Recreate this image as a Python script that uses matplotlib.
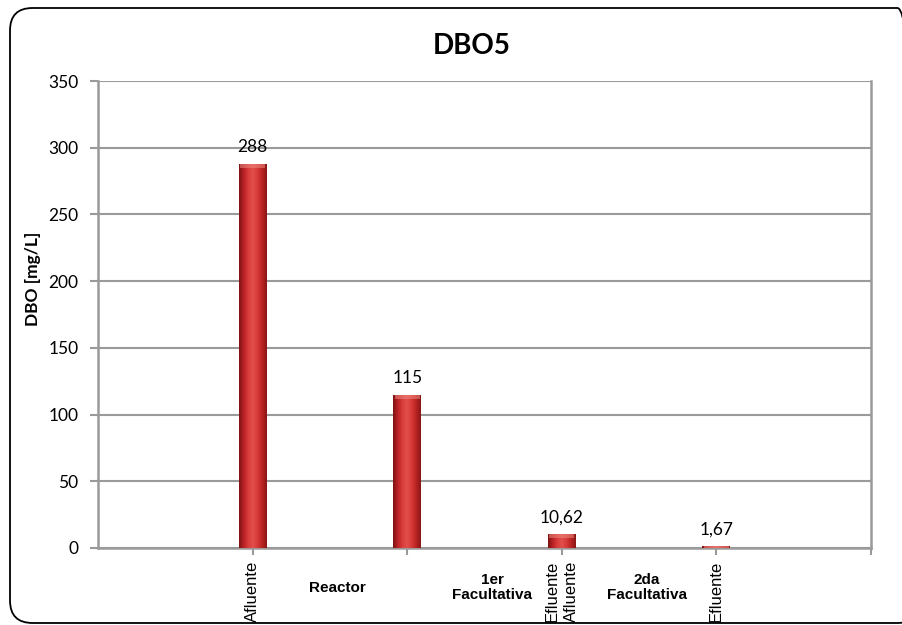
import numpy as np
import matplotlib
matplotlib.use("Agg")
import matplotlib.pyplot as plt
from matplotlib.patches import FancyBboxPatch
from matplotlib.colors import LinearSegmentedColormap
import matplotlib.transforms as mtransforms

# --- data ---
values = [288, 115, 10.62, 1.67]
value_labels = ["288", "115", "10,62", "1,67"]
stage_labels = ["Afluente", "", "Efluente\nAfluente", "Efluente", ""]
group_labels = ["Reactor", "1er\nFacultativa", "2da\nFacultativa"]
title = "DBO5"
ylabel = "DBO [mg/L]"
yticks = [0, 50, 100, 150, 200, 250, 300, 350]

NUM_FONT = ["Lato", "DejaVu Sans"]
CAT_FONT = ["Liberation Sans", "DejaVu Sans"]
GRID = "#9a9a9a"

fig = plt.figure(figsize=(9.02, 6.25), dpi=100)
fig.patch.set_facecolor("white")

# rounded outer frame of the chart (runs off the right edge)
frame = FancyBboxPatch((10 / 902, 2 / 625), 910 / 902, 615 / 625,
                       boxstyle="round,pad=0,rounding_size=0.025",
                       transform=fig.transFigure, fill=False,
                       edgecolor="black", linewidth=1.3, clip_on=False,
                       mutation_aspect=902 / 625)
fig.patches.append(frame)

ax = fig.add_axes([98 / 902, 1 - 548 / 625, (871 - 98) / 902, (548 - 81) / 625])
ax.set_xlim(0, 5)
ax.set_ylim(0, 350)

# gridlines and axes styling
ax.set_yticks(yticks)
ax.yaxis.grid(True, color=GRID, linewidth=1.5)
ax.set_axisbelow(True)
ax.spines["top"].set_visible(False)
for side in ["left", "bottom", "right"]:
    ax.spines[side].set_color(GRID)
    ax.spines[side].set_linewidth(1.8)
ax.tick_params(axis="y", length=6, width=1.5, color=GRID, pad=8,
               labelsize=12.5)
ax.tick_params(axis="x", length=5, width=1.5, color=GRID, pad=4)
for lab in ax.get_yticklabels():
    lab.set_fontfamily(NUM_FONT)

# category ticks along the x axis
positions = np.arange(1, len(stage_labels) + 1)
ax.set_xticks(positions)
ax.set_xticklabels(stage_labels, rotation=90, va="top", ha="center",
                   fontsize=12, family=CAT_FONT, linespacing=1.3)

# cylinder-like bars: base bar plus a horizontal shading clipped to it
bar_x = np.arange(1, len(values) + 1)
width = 0.18
bars = ax.bar(bar_x, values, width=width, color="#c62a2a", edgecolor="none",
              zorder=3)
shade = LinearSegmentedColormap.from_list(
    "cyl", ["#7d1212", "#bb2226", "#d93c3c", "#e2504c", "#d63a38",
            "#b92322", "#8a1616"])
grad = np.linspace(0, 1, 64).reshape(1, -1)
for rect, v in zip(bars, values):
    x0 = rect.get_x()
    im = ax.imshow(grad, cmap=shade, aspect="auto",
                   extent=(x0, x0 + width, 0, v), zorder=4,
                   interpolation="bicubic")
    im.set_clip_path(rect)
    # lighter cap at the top of each cylinder
    cap_h = min(v, 3.0)
    ax.bar(rect.get_x() + width / 2, cap_h, width=width * 0.9,
           bottom=v - cap_h, color="#ec8a7e", alpha=0.55, edgecolor="none",
           zorder=5)
ax.set_xlim(0, 5)
ax.set_ylim(0, 350)

# value labels above bars
for x, v, txt in zip(bar_x, values, value_labels):
    ax.annotate(txt, (x, v), xytext=(0, 6), textcoords="offset points",
                ha="center", va="bottom", fontsize=12.5, family=NUM_FONT,
                zorder=6)

# group labels between the ticks
blend = mtransforms.blended_transform_factory(ax.transData, ax.transAxes)
for i, g in enumerate(group_labels):
    ax.text(1.55 + i, -0.085, g, transform=blend, ha="center", va="center",
            fontsize=11, fontweight="bold", family=CAT_FONT,
            linespacing=1.1)

# title and y-axis label
fig.text(472 / 902, 1 - 46 / 625, title, ha="center", va="center",
         fontsize=20, fontweight="bold", family=NUM_FONT)
fig.text(33 / 902, 1 - 279 / 625, ylabel, ha="center", va="center",
         rotation=90, fontsize=12.5, fontweight="bold", family=NUM_FONT)

fig.savefig("out.png", dpi=100)
